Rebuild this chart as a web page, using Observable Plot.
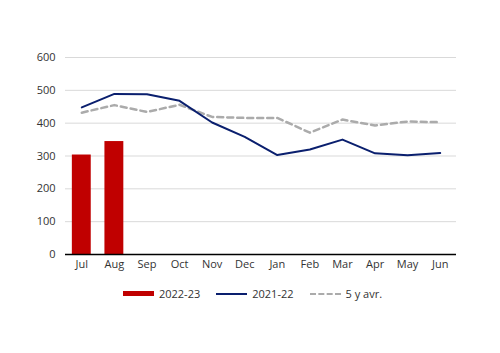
<!DOCTYPE html>
<html><head><meta charset="utf-8">
<script src="https://cdn.jsdelivr.net/npm/d3@7"></script>
<script src="https://cdn.jsdelivr.net/npm/@observablehq/plot@0.6"></script>
<style>
body{margin:0;background:#fff;font-family:"Open Sans",sans-serif;}
#legend{display:flex;justify-content:center;align-items:center;gap:0;font-size:11px;color:#333;margin-top:10px;padding-left:5px}
.item{display:flex;align-items:center;margin:0 8px}
.sw{display:inline-block;width:31px;margin-right:5px}
</style></head><body>
<div id="chart"></div>
<div id="legend">
 <span class="item"><span class="sw" style="height:5px;background:#C00000"></span>2022-23</span>
 <span class="item"><span class="sw" style="height:0;border-top:2px solid #0A1F6E"></span>2021-22</span>
 <span class="item"><span class="sw" style="height:0;border-top:2.5px dashed #ABABAB"></span>5 y avr.</span>
</div>
<script>
const months = ["Jul","Aug","Sep","Oct","Nov","Dec","Jan","Feb","Mar","Apr","May","Jun"];
const bars2223 = [303, 344];
const line2122 = [448, 489, 488, 468, 402, 358, 303, 320, 350, 308, 302, 309];
const avg5y = [432, 455, 434, 456, 419, 416, 416, 371, 411, 393, 405, 403];
const yTicks = [0,100,200,300,400,500,600];

const barData = bars2223.map((v,i)=>({m:months[i], v}));
const lineData = line2122.map((v,i)=>({m:months[i], v}));
const avgData = avg5y.map((v,i)=>({m:months[i], v}));

const chart = Plot.plot({
  width: 500, height: 276,
  marginTop: 57, marginBottom: 22, marginLeft: 65, marginRight: 44,
  style: {fontFamily: '"Open Sans", sans-serif', fontSize: "11px", color: "#333"},
  x: {domain: months, paddingInner: 0.42, paddingOuter: 0.21, round: false, label: null, tickSize: 0, tickPadding: 6},
  y: {domain: [0,600], ticks: yTicks, label: null, tickSize: 0, tickPadding: 10},
  marks: [
    Plot.gridY(yTicks, {stroke: "#d9d9d9", strokeOpacity: 1}),
    Plot.barY(barData, {x: "m", y: "v", fill: "#C00000"}),
    Plot.line(avgData, {x: "m", y: "v", stroke: "#ABABAB", strokeWidth: 2.5, strokeDasharray: "6,4"}),
    Plot.line(lineData, {x: "m", y: "v", stroke: "#0A1F6E", strokeWidth: 2}),
    Plot.ruleY([0], {stroke: "#000", strokeWidth: 1.5})
  ]
});
document.getElementById("chart").appendChild(chart);
</script>
</body></html>
